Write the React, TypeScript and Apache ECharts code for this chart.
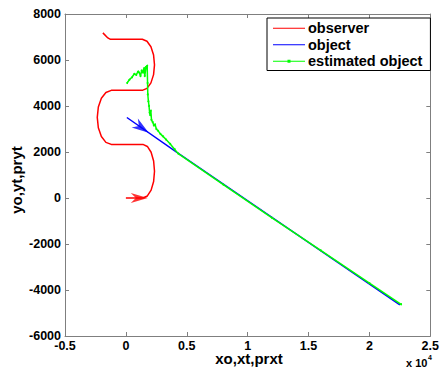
import React, { useEffect, useRef } from "react";
import * as echarts from "echarts";

// Observer trajectory (x, y)
const observerPath: [number, number][] = [
  [0, 0], [700, 0], [1400, 0], [1764, 89], [2072, 341], [2278, 719], [2350, 1165],
  [2278, 1611], [2072, 1989], [1764, 2241], [1400, 2330],
  [-1200, 2330], [-1640, 2420], [-2013, 2674], [-2262, 3055], [-2350, 3505],
  [-2262, 3955], [-2013, 4336], [-1640, 4590], [-1200, 4680],
  [1350, 4680], [1733, 4765], [2057, 5005], [2274, 5365], [2350, 5790],
  [2274, 6215], [2057, 6575], [1733, 6815], [1350, 6900],
  [-1270, 6900], [-1480, 6960], [-1890, 7180],
];

// True object trajectory
const objectPath: [number, number][] = [
  [80, 3500], [4190, 1980], [22500, -4650],
];

// Estimated object trajectory
const estimatedPath: [number, number][] = [
  [100, 5000], [300, 5150], [500, 5250], [700, 5400], [850, 5350], [1000, 5500],
  [1100, 5450], [1200, 5300], [1300, 5550], [1400, 5450], [1500, 5650], [1550, 5300],
  [1650, 5700], [1750, 5750], [1780, 5000], [1800, 4500], [1850, 4200], [1900, 4000],
  [1950, 3700], [2000, 3600], [2050, 3800], [2100, 3400], [2200, 3300], [2300, 3150],
  [2400, 3200], [2500, 3000], [2650, 2920], [2830, 2790], [3050, 2680], [3300, 2540],
  [3640, 2350], [4000, 2120], [4300, 1930], [8000, 580], [12000, -860], [16000, -2280],
  [20000, -3700], [22600, -4620],
];

// Direction arrows (head centre)
const observerArrow: [number, number][] = [[1100, 0]];
const objectArrow: [number, number][] = [[1300, 3050]];

const legendNames = ["observer", "object", "estimated object"];

const xTicks = { min: -5000, max: 25000, interval: 5000 };
const yTicks = { min: -6000, max: 8000, interval: 2000 };

const FONT = "'Liberation Sans', Arial, Helvetica, sans-serif";
const ARROW = "path://M0,0 L10,4 L0,8 L3,4 Z";
const LINE_ICON = "path://M0,1.9 H32 V3.1 H0 Z M0,0 H0.01 V5 H0 Z";
const DOT_ICON = "path://M0,1.9 H32 V3.1 H0 Z M14.5,1 H17.5 V4 H14.5 Z";

export default function App() {
  const ref = useRef<HTMLDivElement>(null);
  useEffect(() => {
    document.body.style.margin = "0";
    const chart = echarts.init(ref.current!, null, { renderer: "svg" });
    const axisLine = { show: true, onZero: false, lineStyle: { color: "#7f7f7f", width: 1 } };
    const tick = { show: true, inside: true, length: 4, lineStyle: { color: "#7f7f7f" } };
    const label = { color: "#000", fontWeight: "bold" as const, fontSize: 12.5, fontFamily: FONT };
    chart.setOption({
      animation: false,
      backgroundColor: "#fff",
      grid: { left: 65, right: 7, top: 14, bottom: 33, containLabel: false },
      xAxis: [
        {
          type: "value", ...xTicks, position: "bottom",
          axisLine, axisTick: tick, splitLine: { show: false },
          axisLabel: { ...label, margin: 3, formatter: (v: number) => String(v / 10000) },
        },
        {
          type: "value", ...xTicks, position: "top",
          axisLine, axisTick: tick, splitLine: { show: false }, axisLabel: { show: false },
        },
      ],
      yAxis: [
        {
          type: "value", ...yTicks, position: "left",
          axisLine, axisTick: tick, splitLine: { show: false },
          axisLabel: { ...label, margin: 4, formatter: (v: number) => String(v) },
        },
        {
          type: "value", ...yTicks, position: "right",
          axisLine, axisTick: tick, splitLine: { show: false }, axisLabel: { show: false },
        },
      ],
      legend: {
        data: [
          { name: legendNames[0], icon: LINE_ICON },
          { name: legendNames[1], icon: LINE_ICON },
          { name: legendNames[2], icon: DOT_ICON },
        ],
        orient: "vertical",
        left: 267,
        top: 18,
        padding: [2, 8, 1, 6],
        itemGap: 0,
        itemWidth: 32,
        itemHeight: 5,
        borderColor: "#000",
        borderWidth: 1,
        backgroundColor: "#fff",
        textStyle: {
          color: "#000", fontWeight: "bold", fontSize: 14.5, fontFamily: FONT,
          lineHeight: 16.5, padding: [0, 0, 0, -2],
        },
      },
      series: [
        {
          name: "observer", type: "line", data: observerPath, symbol: "none",
          lineStyle: { color: "#ff0000", width: 1.5 }, itemStyle: { color: "#ff0000" },
        },
        {
          name: "object", type: "line", data: objectPath, symbol: "none",
          lineStyle: { color: "#0000ff", width: 1.5 }, itemStyle: { color: "#0000ff" },
        },
        {
          name: "estimated object", type: "line", data: estimatedPath, symbol: "circle",
          symbolSize: 2, showSymbol: true,
          lineStyle: { color: "#00ff00", width: 1.5 }, itemStyle: { color: "#00ff00" },
        },
        {
          name: "obsArrow", type: "scatter", data: observerArrow, symbol: ARROW,
          symbolSize: [17, 10], itemStyle: { color: "#ff0000" }, z: 3,
        },
        {
          name: "objArrow", type: "scatter", data: objectArrow, symbol: ARROW,
          symbolSize: [17, 11], symbolRotate: -34.6, itemStyle: { color: "#0000ff" }, z: 3,
        },
      ],
      graphic: [
        {
          type: "text", x: 249, y: 358,
          style: { text: "xo,xt,prxt", font: `bold 15px ${FONT}`, fill: "#000", align: "center", verticalAlign: "middle" },
        },
        {
          type: "text", x: 16, y: 180, rotation: Math.PI / 2,
          style: { text: "yo,yt,pryt", font: `bold 15px ${FONT}`, fill: "#000", align: "center", verticalAlign: "middle" },
        },
        {
          type: "text", x: 406, y: 363,
          style: { text: "x 10", font: `bold 11px ${FONT}`, fill: "#000", align: "left", verticalAlign: "middle" },
        },
        {
          type: "text", x: 428, y: 357,
          style: { text: "4", font: `bold 7px ${FONT}`, fill: "#000", align: "left", verticalAlign: "middle" },
        },
      ],
    });
    return () => chart.dispose();
  }, []);
  return <div ref={ref} style={{ width: 442, height: 369 }} />;
}
